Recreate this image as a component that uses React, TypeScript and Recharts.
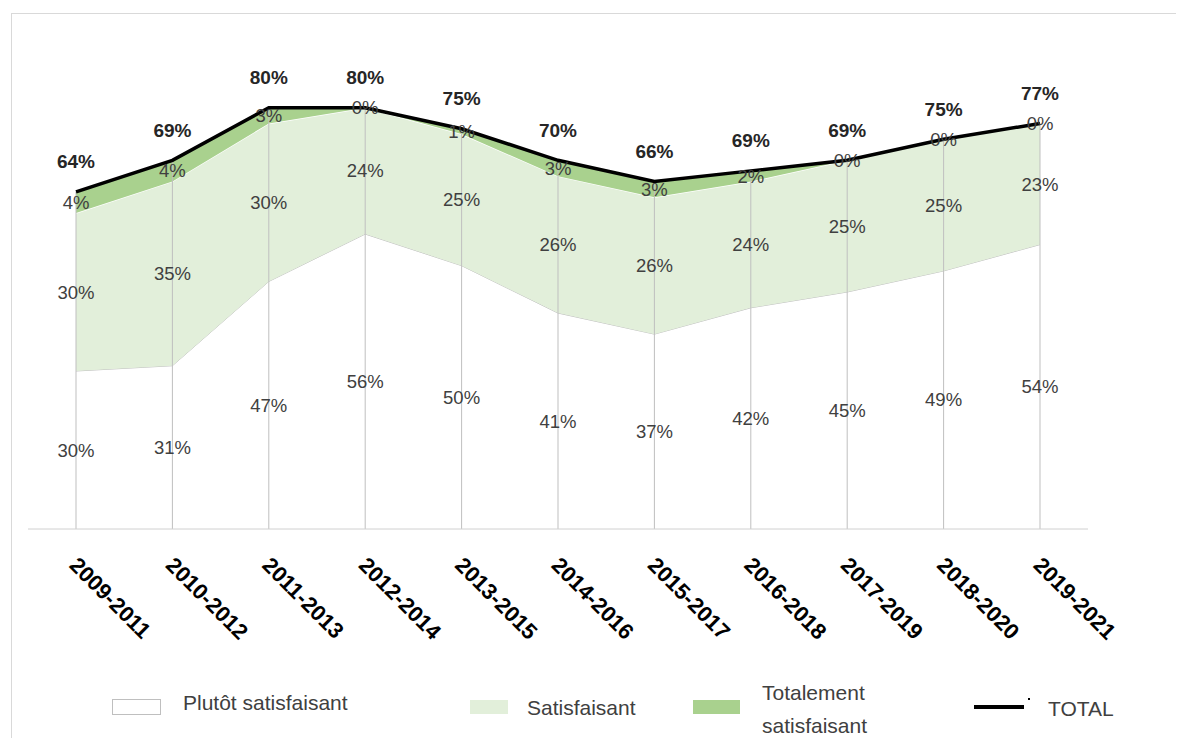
import React from 'react';
import { ComposedChart, Area, Line, XAxis, YAxis, ReferenceLine, LabelList } from 'recharts';

const periods = [
  '2009-2011', '2010-2012', '2011-2013', '2012-2014', '2013-2015', '2014-2016',
  '2015-2017', '2016-2018', '2017-2019', '2018-2020', '2019-2021',
];
const plutot = [30, 31, 47, 56, 50, 41, 37, 42, 45, 49, 54];
const satisfaisant = [30, 35, 30, 24, 25, 26, 26, 24, 25, 25, 23];
const totalement = [4, 4, 3, 0, 1, 3, 3, 2, 0, 0, 0];
const total = [64, 69, 80, 80, 75, 70, 66, 69, 69, 75, 77];

const names = ['Plutôt satisfaisant', 'Satisfaisant', 'Totalement satisfaisant', 'TOTAL'];
const FONT = '"Liberation Sans", Arial, sans-serif';

// stack positions come from the arrays; mids are only used to place the band labels
const data = periods.map((period, i) => ({
  period,
  plutot: plutot[i],
  satisfaisant: satisfaisant[i],
  totalement: totalement[i],
  total: total[i],
  stackTop: plutot[i] + satisfaisant[i] + totalement[i],
  midPlutot: plutot[i] / 2,
  midSatis: plutot[i] + satisfaisant[i] / 2,
  midTotalement: plutot[i] + satisfaisant[i] + totalement[i] / 2,
}));

const BandLabel = (props: any) => {
  const x = props.x ?? props.viewBox?.x;
  const y = props.y ?? props.viewBox?.y;
  return (
    <text x={x} y={y} textAnchor="middle" dominantBaseline="central" fontSize={18.5} fontFamily={FONT} fill="#404040">
      {props.value}%
    </text>
  );
};

const TotalLabel = (props: any) => {
  const x = props.x ?? props.viewBox?.x;
  const y = props.y ?? props.viewBox?.y;
  return (
    <text x={x} y={y - 30} textAnchor="middle" dominantBaseline="central" fontSize={19} fontWeight="bold" fontFamily={FONT} fill="#262626">
      {props.value}%
    </text>
  );
};

const PeriodTick = (props: any) => {
  const { x, y, payload } = props;
  return (
    <g transform={`translate(${x},${y})`}>
      <text transform="rotate(45)" x={21} y={32} textAnchor="start" fontSize={22} fontWeight="bold" fontFamily={FONT} fill="#000">
        {payload.value}
      </text>
    </g>
  );
};

const legendText: React.CSSProperties = {
  position: 'absolute',
  fontFamily: FONT,
  fontSize: 21,
  color: '#404040',
  lineHeight: '33px',
  whiteSpace: 'nowrap',
};

export default function App() {
  return (
    <div style={{ position: 'relative', width: 1176, height: 730 }}>
      <div
        style={{
          position: 'absolute',
          left: 3,
          top: 5,
          width: 1200,
          height: 760,
          border: '1px solid #d9d9d9',
          boxSizing: 'border-box',
        }}
      />
      <div style={{ position: 'absolute', left: 0, top: 0 }}>
        <ComposedChart width={1176} height={730} data={data} margin={{ top: 47, right: 96, left: 20, bottom: 89 }}>
          <XAxis
            dataKey="period"
            height={120}
            padding={{ left: 48, right: 48 }}
            tickLine={false}
            tickSize={0}
            tickMargin={0}
            stroke="#d0d0d0"
            tick={<PeriodTick />}
            interval={0}
          />
          <YAxis hide domain={[0, 90]} />
          <Area type="linear" dataKey="plutot" stackId="1" fill="#ffffff" fillOpacity={1} stroke="#bfbfbf" strokeWidth={1} isAnimationActive={false} />
          <Area type="linear" dataKey="satisfaisant" stackId="1" fill="#e2efda" fillOpacity={1} stroke="#ffffff" strokeWidth={1.5} isAnimationActive={false} />
          <Area type="linear" dataKey="totalement" stackId="1" fill="#a9d18e" fillOpacity={1} stroke="none" isAnimationActive={false} />
          {data.map((d) => (
            <ReferenceLine
              key={d.period}
              segment={[{ x: d.period, y: 0 }, { x: d.period, y: d.stackTop }]}
              stroke="#bfbfbf"
              strokeWidth={1}
            />
          ))}
          <Line type="linear" dataKey="stackTop" stroke="#000000" strokeWidth={3.5} dot={false} activeDot={false} isAnimationActive={false}>
            <LabelList dataKey="total" content={<TotalLabel />} />
          </Line>
          <Line type="linear" dataKey="midPlutot" stroke="none" dot={false} activeDot={false} isAnimationActive={false}>
            <LabelList dataKey="plutot" content={<BandLabel />} />
          </Line>
          <Line type="linear" dataKey="midSatis" stroke="none" dot={false} activeDot={false} isAnimationActive={false}>
            <LabelList dataKey="satisfaisant" content={<BandLabel />} />
          </Line>
          <Line type="linear" dataKey="midTotalement" stroke="none" dot={false} activeDot={false} isAnimationActive={false}>
            <LabelList dataKey="totalement" content={<BandLabel />} />
          </Line>
        </ComposedChart>
      </div>

      {/* legend */}
      <div style={{ position: 'absolute', left: 104, top: 691, width: 47, height: 14, border: '1px solid #bfbfbf', background: '#fff' }} />
      <div style={{ ...legendText, left: 175, top: 678 }}>{names[0]}</div>
      <div style={{ position: 'absolute', left: 462, top: 692, width: 38, height: 14, background: '#e2efda' }} />
      <div style={{ ...legendText, left: 519, top: 683 }}>{names[1]}</div>
      <div style={{ position: 'absolute', left: 685, top: 692, width: 47, height: 14, background: '#a9d18e' }} />
      <div style={{ ...legendText, left: 754, top: 668, whiteSpace: 'normal', width: 130 }}>{names[2]}</div>
      <div style={{ position: 'absolute', left: 966, top: 697, width: 50, height: 4, background: '#000' }} />
      <div style={{ position: 'absolute', left: 1020, top: 690, width: 2, height: 2, background: '#000' }} />
      <div style={{ ...legendText, left: 1040, top: 684 }}>{names[3]}</div>
    </div>
  );
}
